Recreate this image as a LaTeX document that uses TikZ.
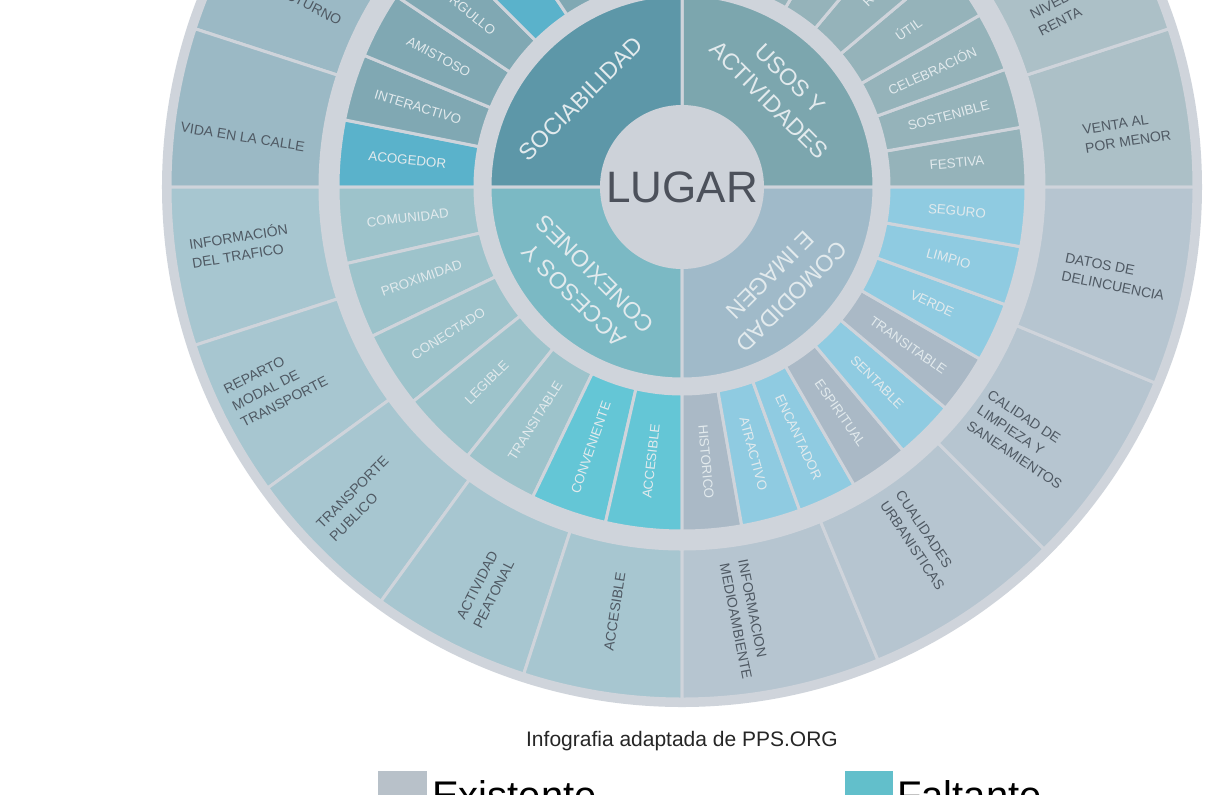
\documentclass[tikz,border=0pt]{standalone}
\usepackage{fontspec}
\setmainfont{Liberation Sans}

\definecolor{gapc}{HTML}{CFD4DB}
\definecolor{lugc}{HTML}{CDD2D9}
\definecolor{lugt}{HTML}{4C515B}
\definecolor{qsoc}{HTML}{5D97A8}
\definecolor{qusos}{HTML}{7CA6AE}
\definecolor{qacc}{HTML}{7BB9C4}
\definecolor{qcom}{HTML}{A0BAC9}
\definecolor{isoc}{HTML}{80A8B3}
\definecolor{iusos}{HTML}{95B3BA}
\definecolor{iacc}{HTML}{9DC3CB}
\definecolor{icom}{HTML}{AAB9C6}
\definecolor{hsoc}{HTML}{5AB2CB}
\definecolor{hacc}{HTML}{64C6D6}
\definecolor{hcom}{HTML}{8FCBE1}
\definecolor{osoc}{HTML}{9BB9C5}
\definecolor{ousos}{HTML}{ACC0C7}
\definecolor{oacc}{HTML}{A7C6D0}
\definecolor{ocom}{HTML}{B6C5D0}
\definecolor{txtd}{HTML}{4F5963}
\definecolor{txtl}{HTML}{E2EAED}
\definecolor{legg}{HTML}{B8C1C9}
\definecolor{legt}{HTML}{62BFCB}

\tikzset{
  segs/.style={draw=gapc, line width=2.25pt},
  qlab/.style={font=\fontsize{17.5}{23}\selectfont, text=txtl, align=center, inner sep=0pt},
  ilab/.style={font=\fontsize{10}{12}\selectfont, text=txtl, inner sep=0pt},
  olab/.style={font=\fontsize{10.5}{14}\selectfont, text=txtd, align=left, inner sep=0pt},
}

% ring segment: colour, from angle, to angle, inner radius, outer radius
\newcommand{\ringseg}[5]{%
  \filldraw[segs, fill=#1] ({#2}:#4) -- ({#2}:#5)
    arc[start angle={#2}, end angle={#3}, radius=#5]
    -- ({#3}:#4) arc[start angle={#3}, end angle={#2}, radius=#4] -- cycle;}

\begin{document}
\begin{tikzpicture}[x=0.75pt,y=0.75pt]
\useasboundingbox (-682,-607) rectangle (545,187);
\fill[white] (-682,-607) rectangle (545,187);
\fill[gapc] (0,0) circle[radius=520];

%% outer ring
\foreach \i in {0,...,4} \ringseg{osoc}{90+18*\i}{108+18*\i}{362}{512};
\foreach \i in {0,...,4} \ringseg{ousos}{18*\i}{18+18*\i}{362}{512};
\foreach \i in {0,...,4} \ringseg{oacc}{180+18*\i}{198+18*\i}{362}{512};
\foreach \i in {0,...,3} \ringseg{ocom}{270+22.5*\i}{292.5+22.5*\i}{362}{512};

%% inner ring
\foreach \i/\c in {0/hsoc,1/isoc,2/isoc,3/isoc,4/hsoc,5/isoc,6/isoc,7/isoc}
  \ringseg{\c}{180-11.25*\i}{168.75-11.25*\i}{207}{344};
\foreach \i in {0,...,8} \ringseg{iusos}{10*\i}{10+10*\i}{207}{344};
\foreach \i/\c in {0/iacc,1/iacc,2/iacc,3/iacc,4/iacc,5/hacc,6/hacc}
  \ringseg{\c}{180+90/7*\i}{180+90/7*(\i+1)}{207}{344};
\foreach \i/\c in {0/icom,1/hcom,2/hcom,3/icom,4/hcom,5/icom,6/hcom,7/hcom,8/hcom}
  \ringseg{\c}{270+10*\i}{280+10*\i}{207}{344};

%% quadrants
\filldraw[segs, fill=qusos] (0,0) -- (0:192) arc[start angle=0, end angle=90, radius=192] -- cycle;
\filldraw[segs, fill=qsoc] (0,0) -- (90:192) arc[start angle=90, end angle=180, radius=192] -- cycle;
\filldraw[segs, fill=qacc] (0,0) -- (180:192) arc[start angle=180, end angle=270, radius=192] -- cycle;
\filldraw[segs, fill=qcom] (0,0) -- (270:192) arc[start angle=270, end angle=360, radius=192] -- cycle;
\fill[lugc] (0,0) circle[radius=82];
\node[font=\fontsize{33}{36}\selectfont, text=lugt] (lugar) at (0,0) {LUGAR};

\node[qlab, rotate=45] (sociab) at (139:134) {SOCIABILIDAD};
\node[qlab, rotate=-45] (usos) at (45:138) {USOS Y\\ACTIVIDADES};
\node[qlab, rotate=135] (accesos) at (225:138) {ACCESOS Y\\CONEXIONES};
\node[qlab, rotate=225] (comodidad) at (315:140) {COMODIDAD\\E IMAGEN};

%% inner labels
\node[ilab, rotate=-5.625] (acogedor) at (174.375:276) {ACOGEDOR};
\node[ilab, rotate=-16.875] (interactivo) at (163.125:276) {INTERACTIVO};
\node[ilab, rotate=-28.125] (amistoso) at (151.875:276) {AMISTOSO};
\node[ilab, rotate=-39.375] (orgullo) at (140.625:276) {ORGULLO};
\node[ilab, rotate=5] (festiva) at (5:276) {FESTIVA};
\node[ilab, rotate=15] (sostenible) at (15:276) {SOSTENIBLE};
\node[ilab, rotate=25] (celebracion) at (25:276) {CELEBRACIÓN};
\node[ilab, rotate=35] (util) at (35:276) {ÚTIL};
\node[ilab, rotate=45] (real) at (45:276) {REAL};
\node[ilab, rotate=6.43] (comunidad) at (186.43:276) {COMUNIDAD};
\node[ilab, rotate=19.29] (proximidad) at (199.29:276) {PROXIMIDAD};
\node[ilab, rotate=32.14] (conectado) at (212.14:276) {CONECTADO};
\node[ilab, rotate=45] (legible) at (225:276) {LEGIBLE};
\node[ilab, rotate=57.86] (transitablea) at (237.86:276) {TRANSITABLE};
\node[ilab, rotate=70.71] (conveniente) at (250.71:276) {CONVENIENTE};
\node[ilab, rotate=83.57] (accesiblea) at (263.57:276) {ACCESIBLE};
\node[ilab, rotate=275] (historico) at (275:276) {HISTORICO};
\node[ilab, rotate=285] (atractivo) at (285:276) {ATRACTIVO};
\node[ilab, rotate=295] (encantador) at (295:276) {ENCANTADOR};
\node[ilab, rotate=305] (espiritual) at (305:276) {ESPIRITUAL};
\node[ilab, rotate=315] (sentable) at (315:276) {SENTABLE};
\node[ilab, rotate=325] (transitableb) at (325:276) {TRANSITABLE};
\node[ilab, rotate=335] (verde) at (335:276) {VERDE};
\node[ilab, rotate=345] (limpio) at (345:276) {LIMPIO};
\node[ilab, rotate=355] (seguro) at (355:276) {SEGURO};

%% outer labels
\node[olab, rotate=-27] (nocturno) at (154:420) {NOCTURNO};
\node[olab, rotate=-9] (vida) at (173.5:442) {VIDA EN LA CALLE};
\node[olab, rotate=9] (trafico) at (187.5:446) {INFORMACIÓN\\DEL TRAFICO};
\node[olab, rotate=27] (reparto) at (206:452) {REPARTO\\MODAL DE\\TRANSPORTE};
\node[olab, rotate=45] (publico) at (224:449) {TRANSPORTE\\PUBLICO};
\node[olab, rotate=63] (peatonal) at (244:448) {ACTIVIDAD\\PEATONAL};
\node[olab, rotate=81] (accesibleb) at (261:430) {ACCESIBLE};
\node[olab, rotate=-78.75] (medio) at (-81.7:437) {INFORMACION\\MEDIOAMBIENTE};
\node[olab, rotate=-56.25] (cualidades) at (-56:426) {CUALIDADES\\URBANISTICAS};
\node[olab, rotate=-33.75] (limpieza) at (-36.4:426) {CALIDAD DE\\LIMPIEZA Y\\SANEAMIENTOS};
\node[olab, rotate=-11.25] (delinc) at (-11.7:442) {DATOS DE\\DELINCUENCIA};
\node[olab, rotate=9] (venta) at (7:448) {VENTA AL\\POR MENOR};
\node[olab, rotate=27] (renta) at (25:421) {NIVEL DE\\RENTA};

%% caption and legend
\node[font=\fontsize{15.75}{18}\selectfont, text=black!85] (fuente) at (0,-554) {Infografia adaptada de PPS.ORG};
\fill[legg] (-304,-584) rectangle (-255,-633);
\node[font=\fontsize{30}{34}\selectfont, anchor=base west, inner sep=0pt] (existe) at (-250,-622) {Existente};
\fill[legt] (163,-584) rectangle (211,-633);
\node[font=\fontsize{30}{34}\selectfont, anchor=base west, inner sep=0pt] (falta) at (215,-622) {Faltante};
\end{tikzpicture}
\end{document}
